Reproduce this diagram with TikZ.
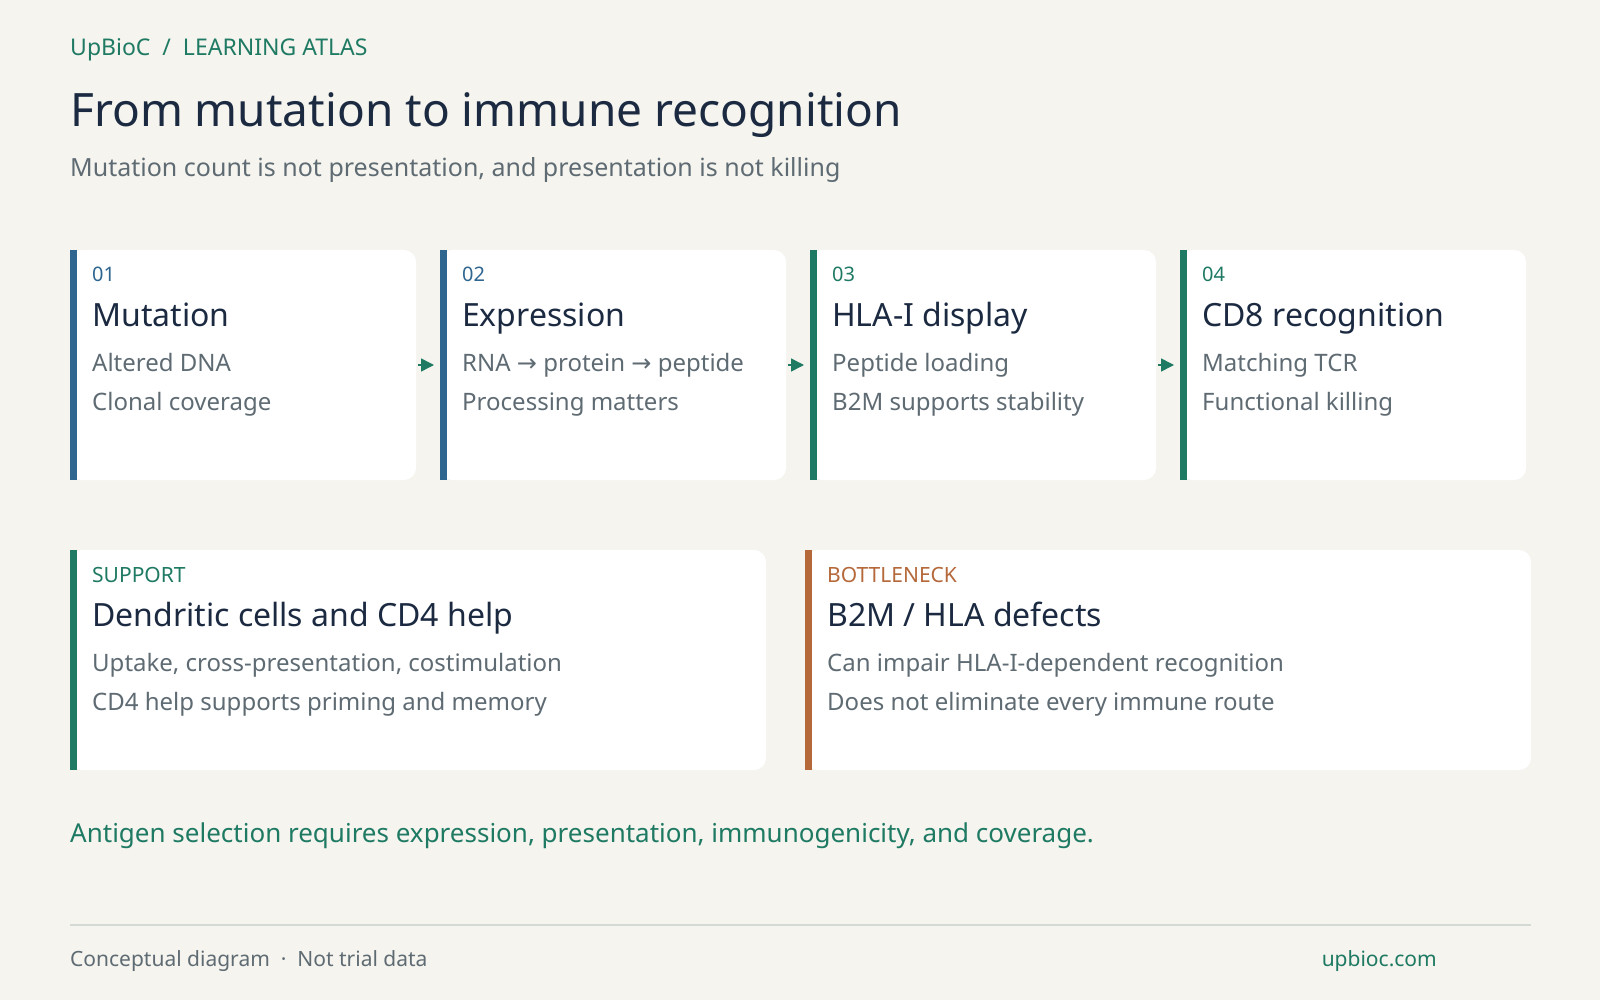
\documentclass[tikz,border=0pt]{standalone}
\usetikzlibrary{arrows.meta,calc}
\usepackage{fontspec}
\setmainfont{Noto Sans}
\newfontfamily\arr{DejaVu Sans}
\definecolor{bg}{HTML}{F5F4EF}
\definecolor{navy}{HTML}{1B2A41}
\definecolor{greyt}{HTML}{5F6B73}
\definecolor{grn}{HTML}{1F7A63}
\definecolor{blu}{HTML}{2F6690}
\definecolor{org}{HTML}{B5693A}
\definecolor{rule}{HTML}{D3DAD6}
\begin{document}
\begin{tikzpicture}[x=1pt,y=-1pt,
  card/.style={fill=white,rounded corners=12pt},
  t/.style={anchor=base west,inner sep=0pt},
  num/.style={t,font=\fontsize{20}{24}\selectfont},
  ttl/.style={t,text=navy,font=\fontsize{32}{38}\selectfont},
  body/.style={t,text=greyt,font=\fontsize{24}{28}\selectfont},
  ar/.style={grn,line width=1.5pt,-{Triangle[length=13pt,width=13pt]}}]
\useasboundingbox[fill=bg] (0,0) rectangle (1600,1000);
\node[t,text=grn,font=\fontsize{23}{27}\selectfont] (hd) at (70,56) {UpBioC \ / \ LEARNING ATLAS};
\node[t,text=navy,font=\fontsize{46}{52}\selectfont] (title) at (70,127) {From mutation to immune recognition};
\node[t,text=greyt,font=\fontsize{25}{30}\selectfont] (sub) at (70,177) {Mutation count is not presentation, and presentation is not killing};
% step cards
\foreach \i/\x/\c/\n/\h/\a/\b in {1/70/blu/01/Mutation/Altered DNA/Clonal coverage,
  2/440/blu/02/Expression/RNA {\arr\fontsize{24}{28}\selectfont→} protein {\arr\fontsize{24}{28}\selectfont→} peptide/Processing matters,
  3/810/grn/03/HLA-I display/Peptide loading/B2M supports stability,
  4/1180/grn/04/CD8 recognition/Matching TCR/Functional killing}{
  \path[card] (\x,250) rectangle ++(346,230);
  \fill[\c] (\x,250) rectangle ++(7,230);
  \coordinate (c\i w) at (\x,365);
  \coordinate (c\i e) at (\x+346,365);
  \node[num,text=\c] (n\i) at (\x+22,282) {\n};
  \node[ttl] (h\i) at (\x+22,326) {\h};
  \node[body] (a\i) at (\x+22,371) {\a};
  \node[body] (b\i) at (\x+22,410) {\b};
}
\draw[ar] ($(c1e)+(2,0)$) -- ($(c2w)+(-6,0)$);
\draw[ar] ($(c2e)+(2,0)$) -- ($(c3w)+(-6,0)$);
\draw[ar] ($(c3e)+(2,0)$) -- ($(c4w)+(-6,0)$);
% bottom cards
\path[card] (70,550) rectangle (766,770);
\fill[grn] (70,550) rectangle ++(7,220);
\node[t,text=grn,font=\fontsize{21}{25}\selectfont] (s1) at (92,582) {SUPPORT};
\node[ttl] (s2) at (92,626) {Dendritic cells and CD4 help};
\node[body] (s3) at (92,671) {Uptake, cross-presentation, costimulation};
\node[body] (s4) at (92,710) {CD4 help supports priming and memory};
\path[card] (805,550) rectangle (1531,770);
\fill[org] (805,550) rectangle ++(7,220);
\node[t,text=org,font=\fontsize{21}{25}\selectfont] (k1) at (827,582) {BOTTLENECK};
\node[ttl] (k2) at (827,626) {B2M / HLA defects};
\node[body] (k3) at (827,671) {Can impair HLA-I-dependent recognition};
\node[body] (k4) at (827,710) {Does not eliminate every immune route};
\node[t,text=grn,font=\fontsize{26}{31}\selectfont] (note) at (70,842) {Antigen selection requires expression, presentation, immunogenicity, and coverage.};
\draw[rule,line width=2pt] (70,925) -- (1531,925);
\node[t,text=greyt,font=\fontsize{21}{25}\selectfont] (f1) at (70,966) {Conceptual diagram \ · \ Not trial data};
\node[anchor=base east,inner sep=0pt,text=grn,font=\fontsize{21}{25}\selectfont] (f2) at (1437,966) {upbioc.com};
\end{tikzpicture}
\end{document}
